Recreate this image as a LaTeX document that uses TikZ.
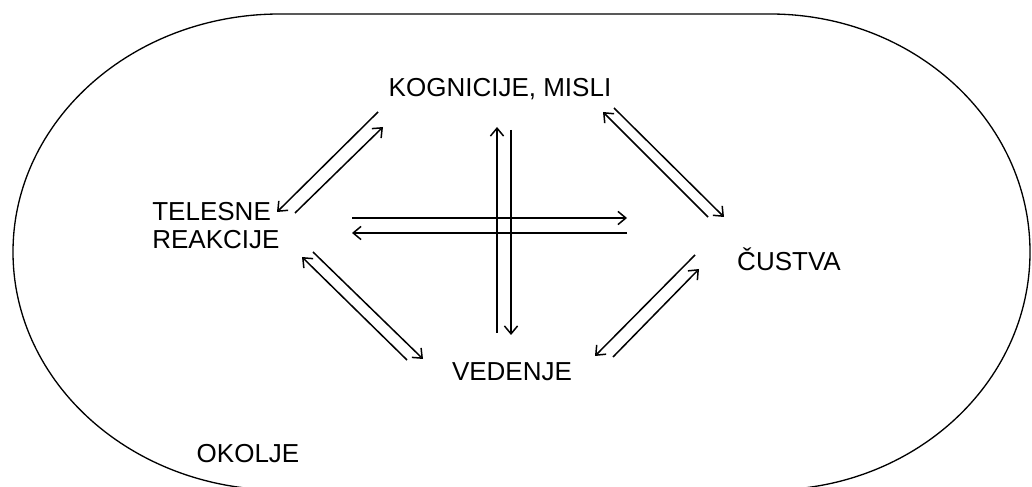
\documentclass[tikz,border=0pt]{standalone}
\usepackage{fontspec}
\setmainfont{Liberation Sans}
\usetikzlibrary{arrows.meta}
\tikzset{
  term/.style={inner sep=0pt, font=\fontsize{14.8}{16}\selectfont},
  flow/.style={-{Straight Barb[length=4.5pt,width=7.5pt]}, line width=0.85pt},
  outline/.style={line width=0.75pt}
}

\begin{document}
\begin{tikzpicture}[x=0.02cm, y=0.02cm]
  \useasboundingbox (0,0) rectangle (1032,487);

  % Environment border
  \draw[outline] (280,473) -- (770,473) arc (90:-90:260 and 238)
    -- (280,-3) arc (270:90:267 and 238);

  % Terms
  \node[term, anchor=base] (kog) at (500,390) {KOGNICIJE, MISLI};
  \node[term, anchor=north west, align=left] (tel) at (152,285) {TELESNE\\REAKCIJE};
  \node[term, anchor=base] (cus) at (789,216) {ČUSTVA};
  \node[term, anchor=base] (ved) at (512,106) {VEDENJE};
  \node[term, anchor=base] (oko) at (248,24) {OKOLJE};

  % Arrow ends
  \coordinate (tk1) at (378,375); \coordinate (tk2) at (277,275);
  \coordinate (kt1) at (295,274); \coordinate (kt2) at (383,360);
  \coordinate (kc1) at (708,270); \coordinate (kc2) at (603,375);
  \coordinate (ck1) at (614,379); \coordinate (ck2) at (724,270);
  \coordinate (tc1) at (352,269); \coordinate (tc2) at (627,269);
  \coordinate (ct1) at (627,254); \coordinate (ct2) at (352,254);
  \coordinate (vk1) at (497,154); \coordinate (vk2) at (497,360);
  \coordinate (kv1) at (511,357); \coordinate (kv2) at (511,152);
  \coordinate (tv1) at (407,127); \coordinate (tv2) at (302,230);
  \coordinate (vt1) at (313,235); \coordinate (vt2) at (423,128);
  \coordinate (cv1) at (695,232); \coordinate (cv2) at (595,131);
  \coordinate (vc1) at (613,130); \coordinate (vc2) at (699,218);

  % Two-way links
  \draw[flow] (tk1) -- (tk2);
  \draw[flow] (kt1) -- (kt2);
  \draw[flow] (kc1) -- (kc2);
  \draw[flow] (ck1) -- (ck2);
  \draw[flow] (tc1) -- (tc2);
  \draw[flow] (ct1) -- (ct2);
  \draw[flow] (vk1) -- (vk2);
  \draw[flow] (kv1) -- (kv2);
  \draw[flow] (tv1) -- (tv2);
  \draw[flow] (vt1) -- (vt2);
  \draw[flow] (cv1) -- (cv2);
  \draw[flow] (vc1) -- (vc2);
\end{tikzpicture}
\end{document}
